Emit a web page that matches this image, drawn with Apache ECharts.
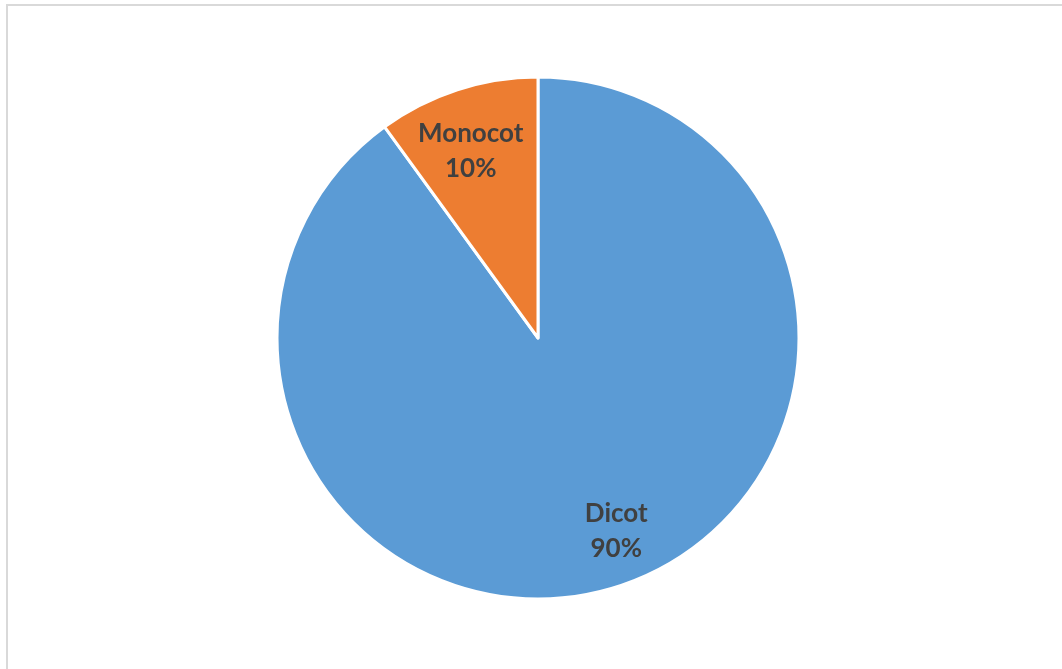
<!DOCTYPE html>
<html>
<head>
<meta charset="utf-8">
<script src="https://cdn.jsdelivr.net/npm/echarts@6/dist/echarts.min.js"></script>
<style>
  html, body { margin: 0; padding: 0; background: #fff; overflow: hidden; }
  #frame {
    position: absolute; left: 6px; top: 4px; width: 1100px; height: 700px;
    border-left: 2px solid #d9d9d9; border-top: 2px solid #d9d9d9;
  }
  #main { position: absolute; left: 0; top: 0; width: 1062px; height: 669px; }
</style>
</head>
<body>
<div id="frame"></div>
<div id="main"></div>
<script>
  // chart data
  var categories = ['Dicot', 'Monocot'];
  var shares = [90, 10];
  var colors = ['#5b9bd5', '#ed7d31'];

  // move the labels a bit out from the default "inside" spot, like Excel does
  var labelShift = [[37, 66], [-26, -60]];

  var myChart = echarts.init(document.getElementById('main'));
  myChart.setOption({
    animation: false,
    series: [
      {
        type: 'pie',
        center: [538, 338],
        radius: 261,
        startAngle: 90,
        clockwise: true,
        itemStyle: { borderColor: '#ffffff', borderWidth: 3 },
        label: {
          show: true,
          position: 'inside',
          formatter: '{b}\n{d}%',
          color: '#404040',
          fontFamily: 'Lato',
          fontWeight: 'bold',
          fontSize: 26,
          lineHeight: 35
        },
        labelLine: { show: false },
        labelLayout: function (params) {
          var s = labelShift[params.dataIndex];
          return { dx: s[0], dy: s[1] };
        },
        data: categories.map(function (name, i) {
          return { name: name, value: shares[i], itemStyle: { color: colors[i] } };
        })
      }
    ]
  });
</script>
</body>
</html>
